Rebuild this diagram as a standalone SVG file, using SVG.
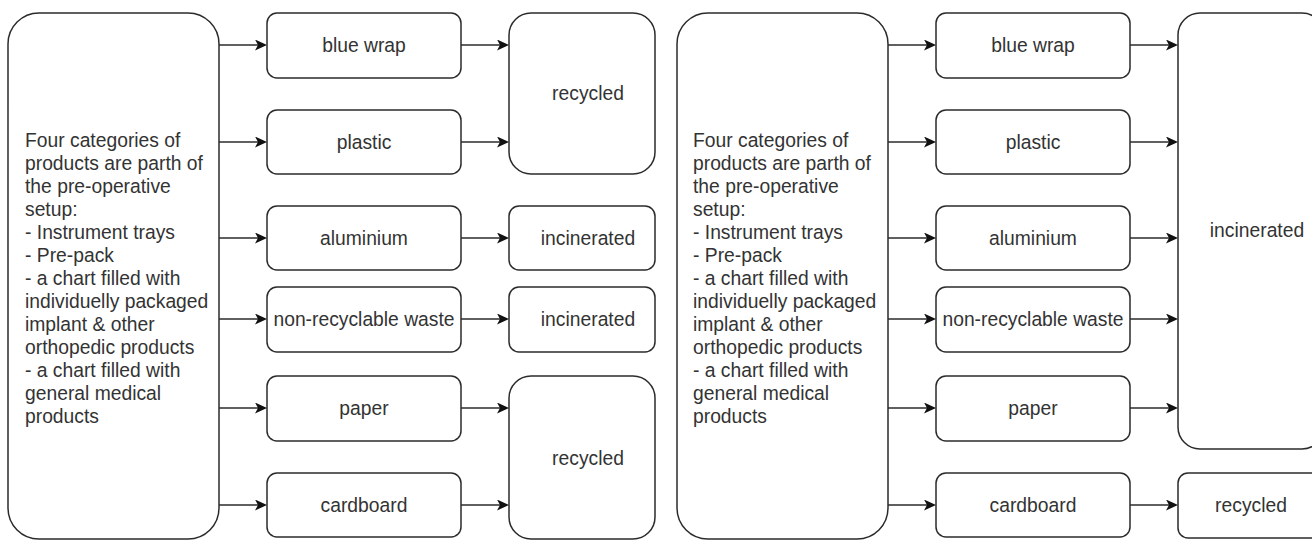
<svg xmlns="http://www.w3.org/2000/svg" width="1312" height="541" viewBox="0 0 1312 541">
<style>
.box{fill:#ffffff;stroke:#2b2b2b;stroke-width:1.5}
.lbl{font-family:"Liberation Sans",Arial,sans-serif;font-size:19.3px;fill:#333333;text-anchor:middle}
.desc{font-family:"Liberation Sans",Arial,sans-serif;font-size:19.3px;fill:#333333}
.edge{fill:none;stroke:#2b2b2b;stroke-width:1.5;marker-end:url(#arr)}
</style>
<defs>
<marker id="arr" viewBox="0 0 12 11" refX="3" refY="5.5" markerWidth="12" markerHeight="11" markerUnits="userSpaceOnUse" orient="auto">
<path d="M0,0 L12,5.5 L0,11 L3,5.5 Z" fill="#111111"/>
</marker>
</defs>
<rect width="1312" height="541" fill="#ffffff"/>

<!-- LEFT PANEL -->
<g id="src-left">
<rect class="box" x="8" y="13" width="211" height="526" rx="31" ry="31"/>
<text class="desc" x="25" y="146.5">
<tspan x="25">Four categories of</tspan>
<tspan x="25" dy="23">products are parth of</tspan>
<tspan x="25" dy="23">the pre-operative</tspan>
<tspan x="25" dy="23">setup:</tspan>
<tspan x="25" dy="23">- Instrument trays</tspan>
<tspan x="25" dy="23">- Pre-pack</tspan>
<tspan x="25" dy="23">- a chart filled with</tspan>
<tspan x="25" dy="23">individuelly packaged</tspan>
<tspan x="25" dy="23">implant &amp; other</tspan>
<tspan x="25" dy="23">orthopedic products</tspan>
<tspan x="25" dy="23">- a chart filled with</tspan>
<tspan x="25" dy="23">general medical</tspan>
<tspan x="25" dy="23">products</tspan>
</text>
</g>
<g id="l-bluewrap"><rect class="box" x="267" y="13" width="194" height="65" rx="10"/><text class="lbl" x="364" y="52">blue wrap</text></g>
<g id="l-plastic"><rect class="box" x="267" y="110" width="194" height="64" rx="10"/><text class="lbl" x="364" y="149">plastic</text></g>
<g id="l-aluminium"><rect class="box" x="267" y="206" width="194" height="64" rx="10"/><text class="lbl" x="364" y="245">aluminium</text></g>
<g id="l-nonrec"><rect class="box" x="267" y="287" width="194" height="65" rx="10"/><text class="lbl" x="364" y="326">non-recyclable waste</text></g>
<g id="l-paper"><rect class="box" x="267" y="376" width="194" height="65" rx="10"/><text class="lbl" x="364" y="415">paper</text></g>
<g id="l-cardboard"><rect class="box" x="267" y="473" width="194" height="64" rx="10"/><text class="lbl" x="364" y="512">cardboard</text></g>
<g id="l-recycled-top"><rect class="box" x="509" y="13" width="146" height="161" rx="22"/><text class="lbl" x="588" y="100">recycled</text></g>
<g id="l-incinerated-1"><rect class="box" x="509" y="206" width="146" height="64" rx="10"/><text class="lbl" x="588" y="245">incinerated</text></g>
<g id="l-incinerated-2"><rect class="box" x="509" y="287" width="146" height="65" rx="10"/><text class="lbl" x="588" y="326">incinerated</text></g>
<g id="l-recycled-bottom"><rect class="box" x="509" y="376" width="146" height="163" rx="22"/><text class="lbl" x="588" y="465">recycled</text></g>

<!-- RIGHT PANEL -->
<g id="src-right">
<rect class="box" x="677" y="13" width="211" height="526" rx="31" ry="31"/>
<text class="desc" x="693" y="146.5">
<tspan x="693">Four categories of</tspan>
<tspan x="693" dy="23">products are parth of</tspan>
<tspan x="693" dy="23">the pre-operative</tspan>
<tspan x="693" dy="23">setup:</tspan>
<tspan x="693" dy="23">- Instrument trays</tspan>
<tspan x="693" dy="23">- Pre-pack</tspan>
<tspan x="693" dy="23">- a chart filled with</tspan>
<tspan x="693" dy="23">individuelly packaged</tspan>
<tspan x="693" dy="23">implant &amp; other</tspan>
<tspan x="693" dy="23">orthopedic products</tspan>
<tspan x="693" dy="23">- a chart filled with</tspan>
<tspan x="693" dy="23">general medical</tspan>
<tspan x="693" dy="23">products</tspan>
</text>
</g>
<g id="r-bluewrap"><rect class="box" x="936" y="13" width="194" height="65" rx="10"/><text class="lbl" x="1033" y="52">blue wrap</text></g>
<g id="r-plastic"><rect class="box" x="936" y="110" width="194" height="64" rx="10"/><text class="lbl" x="1033" y="149">plastic</text></g>
<g id="r-aluminium"><rect class="box" x="936" y="206" width="194" height="64" rx="10"/><text class="lbl" x="1033" y="245">aluminium</text></g>
<g id="r-nonrec"><rect class="box" x="936" y="287" width="194" height="65" rx="10"/><text class="lbl" x="1033" y="326">non-recyclable waste</text></g>
<g id="r-paper"><rect class="box" x="936" y="376" width="194" height="65" rx="10"/><text class="lbl" x="1033" y="415">paper</text></g>
<g id="r-cardboard"><rect class="box" x="936" y="473" width="194" height="64" rx="10"/><text class="lbl" x="1033" y="512">cardboard</text></g>
<g id="r-incinerated"><rect class="box" x="1178" y="13" width="146" height="436" rx="22"/><text class="lbl" x="1257" y="237">incinerated</text></g>
<g id="r-recycled"><rect class="box" x="1178" y="473" width="146" height="65" rx="10"/><text class="lbl" x="1251" y="512">recycled</text></g>

<g id="connectors">
<path class="edge" d="M219,45 H258"/>
<path class="edge" d="M219,142 H258"/>
<path class="edge" d="M219,238 H258"/>
<path class="edge" d="M219,319 H258"/>
<path class="edge" d="M219,408 H258"/>
<path class="edge" d="M219,505 H258"/>
<path class="edge" d="M461,45 H500"/>
<path class="edge" d="M461,142 H500"/>
<path class="edge" d="M461,238 H500"/>
<path class="edge" d="M461,319 H500"/>
<path class="edge" d="M461,408 H500"/>
<path class="edge" d="M461,505 H500"/>
<path class="edge" d="M888,45 H927"/>
<path class="edge" d="M888,142 H927"/>
<path class="edge" d="M888,238 H927"/>
<path class="edge" d="M888,319 H927"/>
<path class="edge" d="M888,408 H927"/>
<path class="edge" d="M888,505 H927"/>
<path class="edge" d="M1130,45 H1169"/>
<path class="edge" d="M1130,142 H1169"/>
<path class="edge" d="M1130,238 H1169"/>
<path class="edge" d="M1130,319 H1169"/>
<path class="edge" d="M1130,408 H1169"/>
<path class="edge" d="M1130,505 H1169"/>
</g>
</svg>
